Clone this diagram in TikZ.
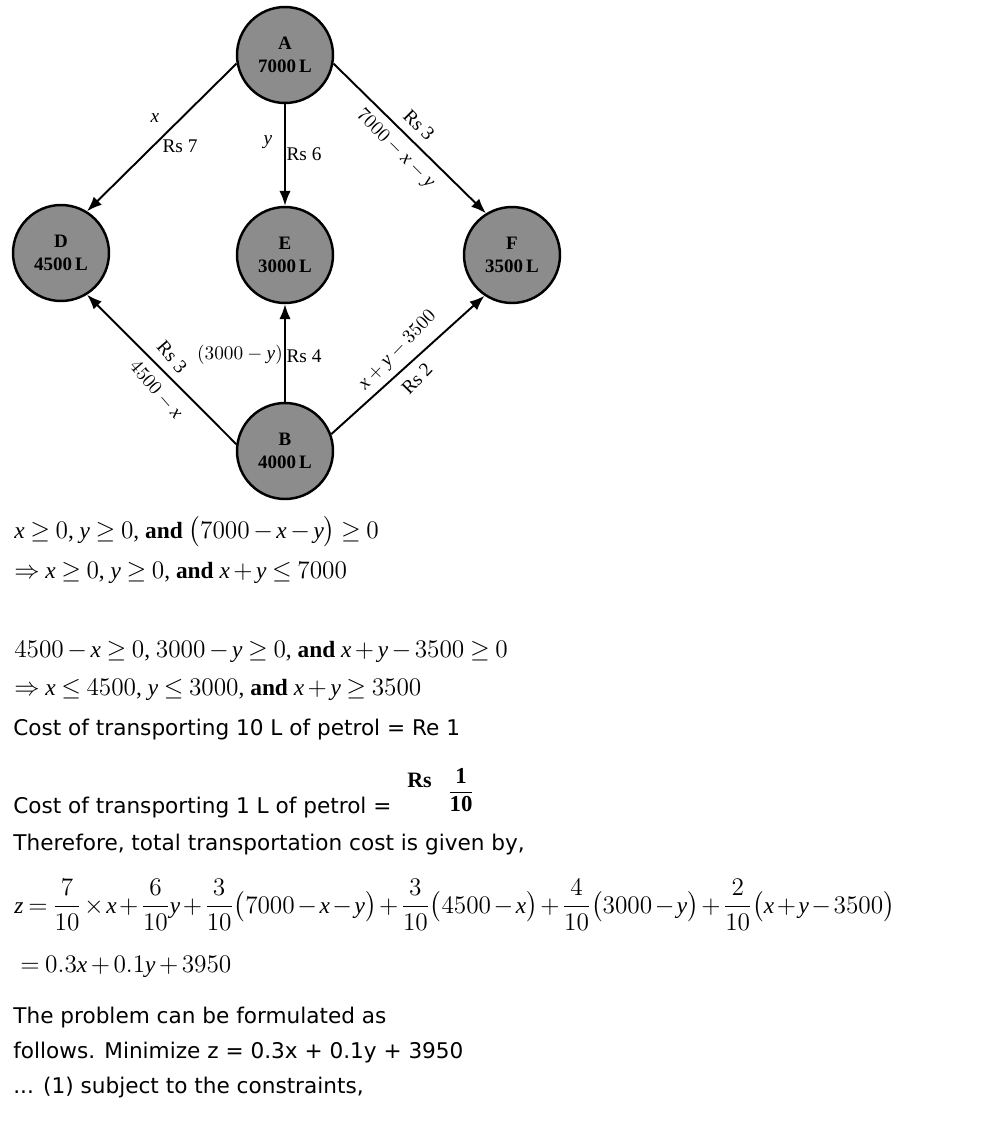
\documentclass[tikz,border=0pt]{standalone}
\usepackage{fontspec}
\usepackage{amsmath}
\setmainfont{Liberation Serif}
\newfontfamily\verdana{DejaVu Sans}
\DeclareSymbolFont{operators}{TU}{\rmdefault}{m}{n}
\SetSymbolFont{operators}{bold}{TU}{\rmdefault}{b}{n}
\usetikzlibrary{arrows.meta}
\definecolor{tankgray}{RGB}{140,140,140}

\begin{document}
\begin{tikzpicture}[x=0.02cm, y=-0.02cm,
tank/.style={circle, draw=black, line width=1.4pt, fill=tankgray,
  minimum size=1.92cm, inner sep=0pt, align=center,
  font=\fontsize{10.8}{13}\selectfont\bfseries},
flow/.style={line width=1.1pt, -{Latex[length=8.5pt,width=6.5pt]}},
cost/.style={inner sep=1pt, font=\fontsize{11}{13}\selectfont},
eqn/.style={anchor=base west, inner sep=0pt, font=\fontsize{13.3}{16}\selectfont,
  execute at begin node={\medmuskip=2.5mu\thickmuskip=4mu}},
txt/.style={anchor=base west, inner sep=0pt, font=\fontsize{12.3}{15}\selectfont\verdana}]

\useasboundingbox (0,0) rectangle (1006,1132);

% depots and pumps
\coordinate (posA) at (285,55);
\coordinate (posD) at (61,253);
\coordinate (posE) at (285,255);
\coordinate (posF) at (512,255);
\coordinate (posB) at (285,451);

\foreach \v/\t in {A/7000, D/4500, E/3000, F/3500, B/4000}
{
    \node[tank] (\v) at (pos\v) {\v\\\t\,L};
};

\draw[flow] (A.190) -- (D.58);
\draw[flow] (A) -- (E);
\draw[flow] (A.-10) -- (F.122);
\draw[flow] (B.172) -- (D.-58);
\draw[flow] (B) -- (E);
\draw[flow] (B.20) -- (F.-124);

% quantities and rates
\node[cost] (qAD) at (155,118) {$\mathit{x}$};
\node[cost] (rAD) at (180,146) {Rs 7};
\node[cost] (qAE) at (268,142) {$\mathit{y}$};
\node[cost] (rAE) at (304,154) {Rs 6};
\node[cost, rotate=-45] (rAF) at (419,125) {Rs 3};
\node[cost, rotate=-45] (qAF) at (395,149) {$7000-\mathit{x}-\mathit{y}$};
\node[cost, rotate=-49] (rBD) at (172,357) {Rs 3};
\node[cost, rotate=-49] (qBD) at (156,390) {$4500-\mathit{x}$};
\node[cost] (qBE) at (240,355) {$(3000-\mathit{y})$};
\node[cost] (rBE) at (304,356) {Rs 4};
\node[cost, rotate=46] (qBF) at (398,351) {$\mathit{x}+\mathit{y}-3500$};
\node[cost, rotate=46] (rBF) at (417,379) {Rs 2};

% working
\node[eqn] (c1) at (14,538) {$\mathit{x}\geq 0$, $\mathit{y}\geq 0$, \textbf{and} $\big(7000-\mathit{x}-\mathit{y}\big)\geq 0$};
\node[eqn] (c2) at (14,578) {$\Rightarrow \mathit{x}\geq 0$, $\mathit{y}\geq 0$, \textbf{and} $\mathit{x}+\mathit{y}\leq 7000$};
\node[eqn] (c3) at (14,657) {$4500-\mathit{x}\geq 0$, $3000-\mathit{y}\geq 0$, \textbf{and} $\mathit{x}+\mathit{y}-3500\geq 0$};
\node[eqn] (c4) at (14,695) {$\Rightarrow \mathit{x}\leq 4500$, $\mathit{y}\leq 3000$, \textbf{and} $\mathit{x}+\mathit{y}\geq 3500$};
\node[txt] (t1) at (13,735) {Cost of transporting 10 L of petrol = Re 1};
\node[anchor=base west, inner sep=0pt, font=\fontsize{12.5}{15}\selectfont\bfseries] (rs) at (407,787) {Rs};
\node[inner sep=0pt, font=\fontsize{13}{15}\selectfont] (frac) at (461,790) {$\dfrac{\mathbf{1}}{\mathbf{10}}$};
\node[txt] (t2) at (13,813) {Cost of transporting 1 L of petrol =};
\node[txt] (t3) at (13,850) {Therefore, total transportation cost is given by,};
\node[eqn, execute at begin node={\medmuskip=1.8mu\thickmuskip=3.5mu}] (z1) at (14,913) {$\mathit{z}=\dfrac{7}{10}\times\mathit{x}+\dfrac{6}{10}\mathit{y}+\dfrac{3}{10}\big(7000-\mathit{x}-\mathit{y}\big)+\dfrac{3}{10}\big(4500-\mathit{x}\big)+\dfrac{4}{10}\big(3000-\mathit{y}\big)+\dfrac{2}{10}\big(\mathit{x}+\mathit{y}-3500\big)$};
\node[eqn] (z2) at (20,972) {$=0.3\mathit{x}+0.1\mathit{y}+3950$};
\node[txt] (t4) at (13,1023) {The problem can be formulated as};
\node[txt] (t5) at (13,1058) {follows. Minimize z = 0.3x + 0.1y + 3950};
\node[txt] (t6) at (13,1093) {... (1) subject to the constraints,};

\end{tikzpicture}
\end{document}
